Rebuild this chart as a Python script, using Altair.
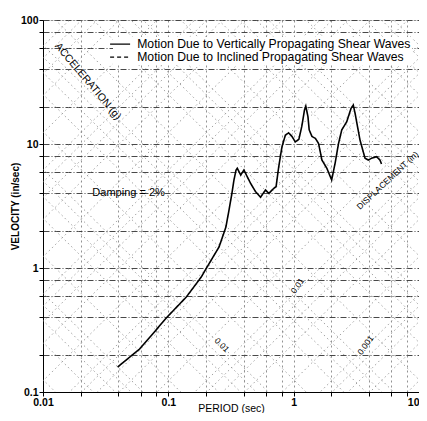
import math
import altair as alt
import pandas as pd

# ---- spectrum curve (period in sec, velocity in in/sec) ----
period = [0.0394, 0.0589, 0.0774, 0.0964, 0.139, 0.183, 0.204, 0.254, 0.288, 0.305,
          0.322, 0.334, 0.347, 0.355, 0.378, 0.401, 0.426, 0.453, 0.497, 0.544,
          0.596, 0.634, 0.694, 0.724, 0.760, 0.807, 0.859, 0.912, 0.970, 1.03,
          1.10, 1.16, 1.22, 1.25, 1.30, 1.33, 1.40, 1.49, 1.58, 1.68,
          1.84, 2.01, 2.14, 2.28, 2.42, 2.65, 2.87, 2.99, 3.09, 3.38,
          3.71, 3.94, 4.18, 4.58, 4.88, 5.02]
velocity = [0.159, 0.222, 0.305, 0.396, 0.583, 0.845, 1.02, 1.48, 2.14, 2.94,
            4.03, 5.13, 6.17, 6.37, 5.62, 6.17, 5.45, 4.82, 4.12, 3.72,
            4.26, 4.0, 4.39, 4.53, 6.56, 9.51, 11.8, 12.3, 11.5, 10.4,
            10.9, 13.8, 18.8, 20.2, 16.6, 13.0, 11.5, 11.1, 10.1, 7.43,
            6.37, 5.13, 6.98, 10.1, 13.0, 15.1, 19.4, 20.6, 17.7, 10.8,
            7.67, 7.43, 7.67, 7.90, 7.43, 6.90]

series_names = ["Motion Due to Vertically Propagating Shear Waves",
                "Motion Due to Inclined Propagating Shear Waves"]

# ---- grid values ----
x_grid = [0.01, 0.02, 0.04, 0.06, 0.08, 0.1, 0.2, 0.4, 0.6, 0.8, 1, 2, 4, 6, 8, 10]
y_grid = [0.1, 0.2, 0.4, 0.6, 0.8, 1, 2, 4, 6, 8, 10, 20, 40, 60, 80, 100]
diag_decades = [1e-4, 1e-3, 1e-2, 1e-1, 1, 10, 100]
diag_mult = [1, 2, 4, 6, 8]

# ---- annotations (text, period, velocity) ----
damping_text = ["Damping = 2%"]
damping_T = [0.0482]
damping_V = [4.03]
accel_title = ["ACCELERATION (g)"]
accel_title_T = [0.0228]
accel_title_V = [32.0]
disp_title = ["DISPLACEMENT (in)"]
disp_title_T = [5.6]
disp_title_V = [5.1]
small_lab_a = ["0.01"]
small_lab_a_T = [0.268]
small_lab_a_V = [0.24]
small_lab_b = ["0.01", "0.001"]
small_lab_b_T = [1.07, 3.73]
small_lab_b_V = [0.72, 0.239]

G_IN = 386.4
rows = []
for dec in diag_decades:
    for m in diag_mult:
        lvl = dec * m
        for T in (0.001, 100.0):
            rows.append({"id": f"a{lvl:g}", "T": T, "V": lvl * G_IN * T / (2 * math.pi)})
            rows.append({"id": f"d{lvl:g}", "T": T, "V": 2 * math.pi * lvl / T})
diag_df = pd.DataFrame(rows)

curve_df = pd.DataFrame({"T": period, "V": velocity,
                         "series": [series_names[0]] * len(period),
                         "order": list(range(len(period)))})

xs = alt.Scale(type="log", domain=[0.01, 10])
ys = alt.Scale(type="log", domain=[0.1, 100])

label_expr = ("abs(log(datum.value)/LN10 - round(log(datum.value)/LN10)) < 0.001"
              " ? format(datum.value, '~g') : ''")

x_axis = alt.Axis(values=x_grid, labelExpr=label_expr, title="PERIOD (sec)",
                  grid=True, gridColor="#777", gridDash=[2, 3], gridWidth=0.8,
                  tickSize=4, labelPadding=1, labelFontSize=10.5, labelFontWeight="bold",
                  labelFont="Liberation Sans", titleFont="Liberation Sans",
                  titleFontSize=10.5, titleFontWeight="normal", titleBaseline="top",
                  titleY=11, labelFlush=False, labelColor="black", tickColor="black",
                  domainColor="black", titleColor="black",
                  labelAlign={"condition": {"test": "datum.value >= 9", "value": "right"},
                              "value": "center"})
y_axis = alt.Axis(values=y_grid, labelExpr=label_expr, title="VELOCITY (in/sec)",
                  grid=True, gridColor="#333", gridDash=[6, 2, 1, 2], gridWidth=0.9,
                  tickSize=4, labelPadding=1, labelFontSize=10.5, labelFontWeight="bold",
                  labelFont="Liberation Sans", titleFont="Liberation Sans",
                  titleFontSize=10, titleFontWeight="bold", titleBaseline="bottom",
                  titleX=-23, labelFlush=False, labelColor="black", tickColor="black",
                  domainColor="black", titleColor="black")

diag = alt.Chart(diag_df).mark_line(clip=True, color="#8a8a8a", strokeWidth=0.8,
                                    strokeDash=[1.5, 3]).encode(
    x=alt.X("T:Q", scale=xs, axis=x_axis),
    y=alt.Y("V:Q", scale=ys, axis=y_axis),
    detail="id:N",
)

curve = alt.Chart(curve_df).mark_line(color="black", strokeWidth=1.6, clip=True).encode(
    x=alt.X("T:Q", scale=xs),
    y=alt.Y("V:Q", scale=ys),
    order="order:Q",
    strokeDash=alt.StrokeDash(
        "series:N",
        scale=alt.Scale(domain=series_names, range=[[1, 0], [4, 3]]),
        legend=alt.Legend(orient="none", legendX=70, legendY=17, title=None,
                          symbolType="M-2,0H2", symbolSize=100, symbolStrokeWidth=1.4,
                          symbolStrokeColor="black", labelFontSize=12.2,
                          labelFont="Liberation Sans", labelColor="black",
                          labelOffset=11, rowPadding=-1, labelLimit=400,
                          fillColor="white", padding=1),
    ),
)


def text_layer(txt, tv, vv, angle, size, weight="normal"):
    df = pd.DataFrame({"text": txt, "T": tv, "V": vv})
    return alt.Chart(df).mark_text(angle=angle, fontSize=size, font="Liberation Sans",
                                   fontWeight=weight, color="black").encode(
        x=alt.X("T:Q", scale=xs), y=alt.Y("V:Q", scale=ys), text="text:N")


damp = text_layer(damping_text, damping_T, damping_V, 0, 11)
acc_t = text_layer(accel_title, accel_title_T, accel_title_V, 50, 10.5)
disp_t = text_layer(disp_title, disp_title_T, disp_title_V, 317, 8.5)
sm_a = text_layer(small_lab_a, small_lab_a_T, small_lab_a_V, 45, 8.5)
sm_b = text_layer(small_lab_b, small_lab_b_T, small_lab_b_V, 305, 8.5)

chart = alt.layer(diag, curve, damp, acc_t, disp_t, sm_a, sm_b).properties(
    width=376, height=372,
    autosize=alt.AutoSizeParams(type="none"),
    padding={"left": 35, "top": 12, "right": 0, "bottom": 21},
).configure_view(stroke="black", strokeWidth=1.2).configure(background="white")

chart.save("out.html", embed_options={"renderer": "svg", "actions": False})
